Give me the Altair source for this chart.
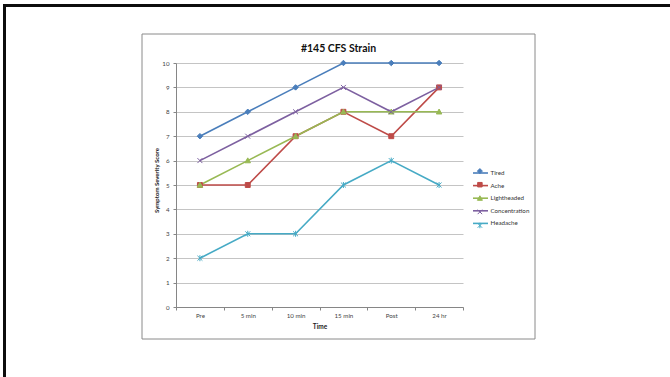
import altair as alt
import pandas as pd

categories = ["Pre", "5 min", "10 min", "15 min", "Post", "24 hr"]
series = ["Tired", "Ache", "Lightheaded", "Concentration", "Headache"]
tired = [7, 8, 9, 10, 10, 10]
ache = [5, 5, 7, 8, 7, 9]
lightheaded = [5, 6, 7, 8, 8, 8]
concentration = [6, 7, 8, 9, 8, 9]
headache = [2, 3, 3, 5, 6, 5]
y_ticks = [0, 1, 2, 3, 4, 5, 6, 7, 8, 9, 10]
title_text = ["#145 CFS Strain"]

colors = ["#4A7EBB", "#BE4B48", "#98B954", "#7D60A0", "#46AAC5"]
shapes = [
    "M0,-1L1,0L0,1L-1,0Z",
    "M-0.9,-0.9H0.9V0.9H-0.9Z",
    "M0,-1L1,0.8H-1Z",
    "M-0.9,-0.9L0.9,0.9M-0.9,0.9L0.9,-0.9",
    "M-0.9,-0.9L0.9,0.9M-0.9,0.9L0.9,-0.9M0,-1.1V1.1",
]

values = [tired, ache, lightheaded, concentration, headache]
rows = []
for s, vals in zip(series, values):
    for c, v in zip(categories, vals):
        rows.append({"time": c, "series": s, "score": v})
df = pd.DataFrame(rows)

FONT = "Lato"
W, H = 287, 244
PL, PT = 176, 63

x_enc = alt.X(
    "time:N",
    sort=categories,
    bandPosition=0.5,
    scale=alt.Scale(type="band", paddingInner=0, paddingOuter=0),
    axis=alt.Axis(
        title="Time",
        titleFont=FONT, titleFontSize=6.5, titleFontWeight="bold", titleColor="#222222",
        titleY=19, titleBaseline="middle",
        labelFont=FONT, labelFontSize=6.2, labelColor="#444444", labelAngle=0,
        labelPadding=2.5,
        tickBand="extent", tickSize=3, tickColor="#868686",
        domainColor="#868686", grid=False,
    ),
)
y_enc = alt.Y(
    "score:Q",
    scale=alt.Scale(domain=[0, 10], nice=False),
    axis=alt.Axis(
        title="Symptom Severity Score",
        titleFont=FONT, titleFontSize=6, titleFontWeight="bold", titleColor="#222222",
        titleX=-20, titleY=117, titleAngle=270, titleAlign="center", titleBaseline="middle",
        values=y_ticks,
        labelFont=FONT, labelFontSize=6.2, labelColor="#444444", labelPadding=4,
        tickSize=3, tickColor="#868686", domainColor="#868686",
        grid=True, gridColor="#c4c4c4", gridWidth=1,
    ),
)

base = alt.Chart(df)
tbase = alt.Chart(pd.DataFrame({"t": title_text}))

box = tbase.mark_rect(fillOpacity=0, stroke="#8a8a8a", strokeWidth=1).encode(
    x=alt.value(142 - PL), x2=alt.value(535 - PL),
    y=alt.value(34 - PT), y2=alt.value(339 - PT),
)
frame_top = tbase.mark_rect(color="#0d0d0d").encode(
    x=alt.value(3 - PL), x2=alt.value(670 - PL),
    y=alt.value(4 - PT), y2=alt.value(7 - PT),
)
frame_left = tbase.mark_rect(color="#0d0d0d").encode(
    x=alt.value(3 - PL), x2=alt.value(6 - PL),
    y=alt.value(4 - PT), y2=alt.value(377 - PT),
)
title = tbase.mark_text(
    font=FONT, fontSize=10.5, fontWeight="bold", color="#111111",
    align="center", baseline="alphabetic",
).encode(text="t:N", x=alt.value(338.5 - PL), y=alt.value(51.7 - PT))

lines = base.mark_line(strokeWidth=1.6).encode(
    x=x_enc,
    y=y_enc,
    color=alt.Color(
        "series:N",
        sort=series,
        scale=alt.Scale(range=colors),
        legend=alt.Legend(
            title=None, orient="none", legendX=299.5, legendY=105,
            symbolType="M-2,0H2", symbolSize=56, symbolStrokeWidth=1.6,
            labelFont=FONT, labelFontSize=6.2, labelColor="#333333",
            labelOffset=5, rowPadding=3.6, padding=0,
        ),
    ),
    detail="series:N",
)

leg2 = dict(
    title=None, orient="none", legendX=300.8, legendY=105,
    symbolSize=25, symbolStrokeWidth=1,
    labelFont=FONT, labelFontSize=6.2, labelOpacity=0,
    labelOffset=5, rowPadding=3.6, padding=0,
)
points = base.mark_point(filled=True, size=30, strokeWidth=1, opacity=1).encode(
    x=x_enc,
    y=y_enc,
    fill=alt.Fill("series:N", scale=alt.Scale(domain=series, range=colors), legend=alt.Legend(**leg2)),
    stroke=alt.Stroke("series:N", scale=alt.Scale(domain=series, range=colors), legend=alt.Legend(**leg2)),
    shape=alt.Shape("series:N", scale=alt.Scale(domain=series, range=shapes), legend=alt.Legend(**leg2)),
)

chart = alt.layer(box, frame_top, frame_left, title, lines, points).properties(
    width=W, height=H,
    padding={"left": PL, "top": PT, "right": 670 - PL - W, "bottom": 377 - PT - H},
    autosize=alt.AutoSizeParams(type="none"),
    background="white",
).configure_view(strokeWidth=0)

chart.save("out.html", embed_options={"renderer": "svg", "actions": False})
